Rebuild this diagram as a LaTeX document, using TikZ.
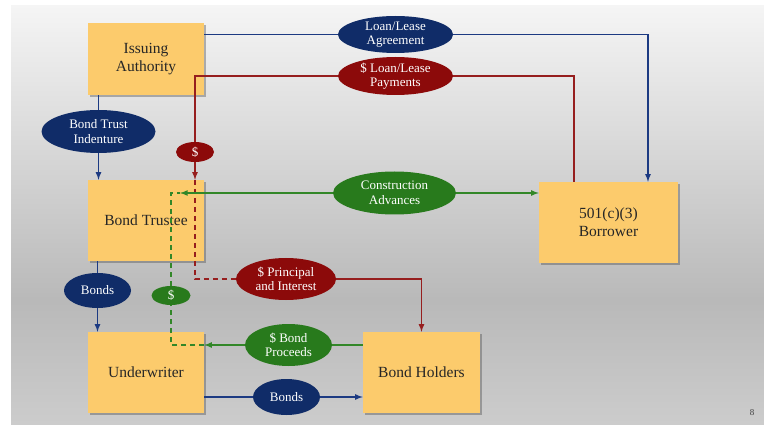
\documentclass[tikz,border=0pt]{standalone}
\usepackage{fontspec}
\setmainfont{Liberation Serif}
\usetikzlibrary{shapes.geometric, shadows, positioning}

\begin{document}
\begin{tikzpicture}[x=1pt, y=-1pt,
        >=latex,
        every node/.style={font=\fontsize{13}{14.5}\selectfont},
        party/.style={fill=boxcolor, text=black!85, align=center, inner sep=0pt,
            font=\fontsize{15.5}{18}\selectfont,
            drop shadow={shadow xshift=2pt, shadow yshift=-2pt, opacity=0.4, fill=black!70}},
        deal/.style={ellipse, fill=#1, text=white, align=center, inner sep=0pt},
        navyline/.style={draw=navyline, line width=1.6pt},
        redline/.style={draw=redline, line width=1.6pt},
        greenline/.style={draw=greenline, line width=1.6pt},
        cash/.style={dash pattern=on 5pt off 4pt},]

        \definecolor{boxcolor}{RGB}{252, 203, 108}
        \definecolor{navyfill}{RGB}{16, 44, 104}
        \definecolor{redfill}{RGB}{140, 10, 10}
        \definecolor{greenfill}{RGB}{40, 122, 28}
        \definecolor{navyline}{RGB}{28, 58, 130}
        \definecolor{redline}{RGB}{150, 30, 30}
        \definecolor{greenline}{RGB}{50, 135, 40}

        % slide background
        \fill[white] (0,0) rectangle (764,425);
        \shade[top color=gray!8, bottom color=gray!55] (11,6) rectangle (764,300);
        \shade[top color=gray!55, bottom color=gray!40] (11,300) rectangle (764,424);

        \node[party, minimum width=116pt, minimum height=72pt] (auth) at (146,59) {Issuing\\Authority};
        \node[party, minimum width=116pt, minimum height=81pt] (trustee) at (146,220.5) {Bond Trustee};
        \node[party, minimum width=116pt, minimum height=81pt] (uw) at (146,372.5) {Underwriter};
        \node[party, minimum width=117pt, minimum height=81pt] (holders) at (421.5,372.5) {Bond Holders};
        \node[party, minimum width=139pt, minimum height=81pt] (borr) at (608.5,222.5) {501(c)(3)\\Borrower};

        \node[deal=navyfill, minimum width=115pt, minimum height=37pt] (agree) at (395.5,34.5) {Loan/Lease\\Agreement};
        \node[deal=redfill, minimum width=115pt, minimum height=38pt] (pay) at (395.5,76) {\$ Loan/Lease\\Payments};
        \node[deal=navyfill, minimum width=114pt, minimum height=43pt] (indent) at (98.5,131.5) {Bond Trust\\Indenture};
        \node[deal=redfill, minimum width=38pt, minimum height=20pt] (dollarR) at (195,152) {\$};
        \node[deal=greenfill, minimum width=123pt, minimum height=43pt] (adv) at (394.5,193) {Construction\\Advances};
        \node[deal=navyfill, minimum width=67pt, minimum height=35pt] (bondsA) at (97.5,290.5) {Bonds};
        \node[deal=greenfill, minimum width=39pt, minimum height=19pt] (dollarG) at (171,295.5) {\$};
        \node[deal=redfill, minimum width=100pt, minimum height=42pt] (princ) at (286,279) {\$ Principal\\and Interest};
        \node[deal=greenfill, minimum width=87pt, minimum height=42pt] (proceeds) at (288.5,345) {\$ Bond\\Proceeds};
        \node[deal=navyfill, minimum width=67pt, minimum height=36pt] (bondsB) at (286.5,397) {Bonds};

        \coordinate (advtip) at (180,193);
        \node[text=black!75, font=\fontsize{9}{10}\selectfont] (page) at (752,413) {8};

        % documents
        \draw[navyline] (auth.east |- agree) -- (agree.west);
        \draw[navyline, ->] (agree.east) -| ([xshift=39.5pt]borr.north);
        \draw[navyline] (auth.south -| indent) -- (indent.north);
        \draw[navyline, ->] (indent.south) -- (trustee.north -| indent);
        \draw[navyline] (trustee.south -| bondsA) -- (bondsA.north);
        \draw[navyline, ->] (bondsA.south) -- (uw.north -| bondsA);
        \draw[navyline] (uw.east |- bondsB) -- (bondsB.west);
        \draw[navyline, ->] (bondsB.east) -- (holders.west |- bondsB);

        % payments
        \draw[redline] ([xshift=-34.5pt]borr.north) |- (pay.east);
        \draw[redline] (pay.west) -| (dollarR.north);
        \draw[redline, ->] (dollarR.south) -- (trustee.north -| dollarR);
        \draw[redline, cash] (trustee.north -| dollarR) |- (princ.west);
        \draw[redline, ->] (princ.east) -| (holders.north);

        % proceeds and advances
        \draw[greenline, ->] (adv.east) -- (borr.west |- adv);
        \draw[greenline, ->] (adv.west) -- (advtip);
        \draw[greenline] (holders.west |- proceeds) -- (proceeds.east);
        \draw[greenline, ->] (proceeds.west) -- (uw.east |- proceeds);
        \draw[greenline, cash] (uw.east |- proceeds) -| (dollarG.south);
        \draw[greenline, cash] (dollarG.north) |- (advtip);

    \end{tikzpicture}
\end{document}
